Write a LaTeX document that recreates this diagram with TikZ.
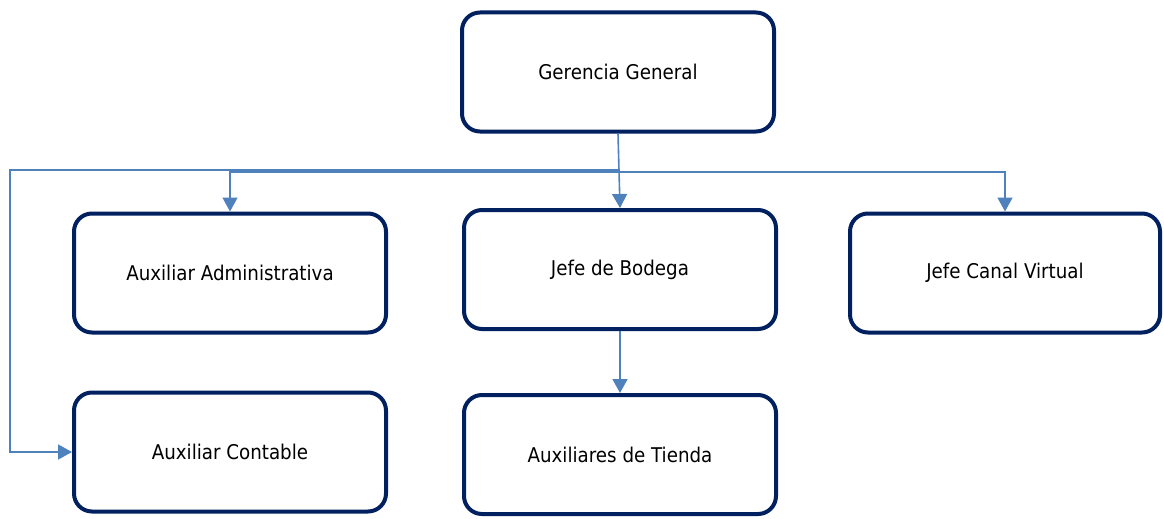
\documentclass[tikz,border=0pt]{standalone}
\usepackage{fontspec}
\setmainfont{DejaVu Sans Condensed}
\usetikzlibrary{arrows.meta}
\definecolor{boxline}{HTML}{002060}
\definecolor{conncol}{HTML}{4F81BD}
\begin{document}
\begin{tikzpicture}[x=1pt,y=-1pt,
  orgbox/.style={draw=boxline, line width=4pt, rounded corners=18pt, fill=white,
    minimum width=312pt, minimum height=119pt, inner sep=0pt,
    font=\fontsize{20.3pt}{23pt}\selectfont},
  conn/.style={draw=conncol, line width=1.6pt},
  arr/.style={conn, -{Triangle[length=14pt,width=15pt]}}]
\useasboundingbox (0,0) rectangle (1164,519);
\node[orgbox] (G) at (618,72) {Gerencia General};
\node[orgbox] (AA) at (230,273) {Auxiliar Administrativa};
\node[orgbox] (JB) at (620,269.5) {Jefe de Bodega};
\node[orgbox, minimum width=310pt] (JCV) at (1005,273) {Jefe Canal Virtual};
\node[orgbox] (AC) at (230,452) {Auxiliar Contable};
\node[orgbox] (AT) at (620,454.5) {Auxiliares de Tienda};
\coordinate (bus) at (618,172);
\coordinate (lb) at (618,170);
\coordinate (lt) at (10,170);
\draw[arr] (G.south) -- (JB.north);
\draw[arr] (bus) -| (AA.north);
\draw[arr] (bus) -| (JCV.north);
\draw[arr] (lb) -- (lt) |- (AC.west);
\draw[arr] (JB.south) -- (AT.north);
\end{tikzpicture}
\end{document}
